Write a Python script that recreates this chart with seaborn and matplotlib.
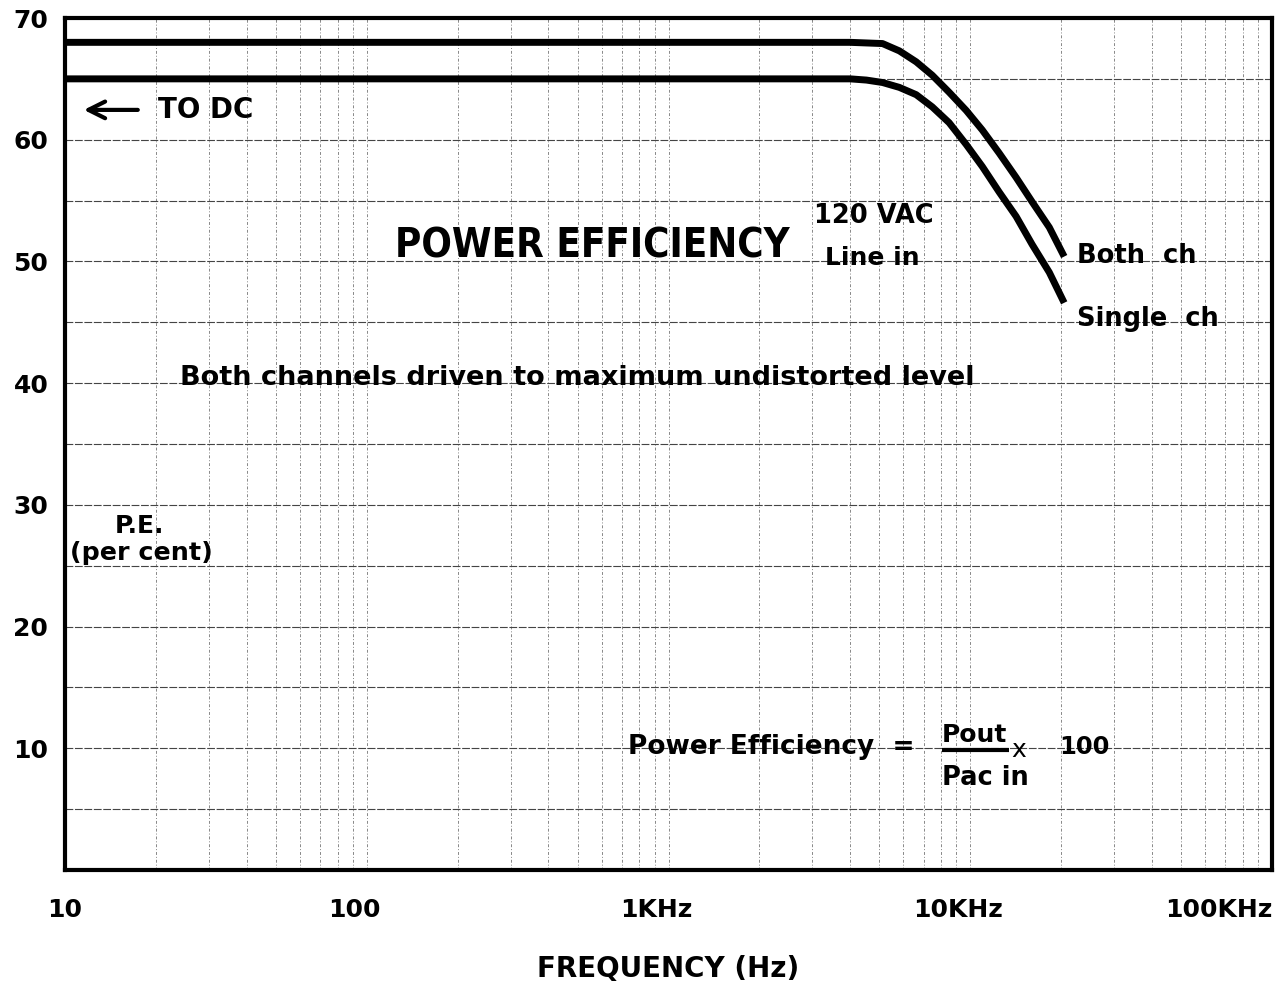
import os
import numpy as np
import pandas as pd
import matplotlib
matplotlib.use("Agg")
import matplotlib.pyplot as plt
import matplotlib.transforms as mtransforms
from matplotlib import font_manager as fm
from matplotlib.font_manager import FontProperties
import seaborn as sns

# ---- data ----
freq_hz = [10, 4000, 4530, 5120, 5820, 6620, 7480, 8510, 9700, 10960, 12470, 14190, 16030, 18280, 20480]
both_ch = [68, 68, 67.95, 67.9, 67.3, 66.4, 65.3, 63.9, 62.4, 60.8, 58.9, 56.9, 54.9, 52.8, 50.4]
single_ch = [65, 65, 64.9, 64.7, 64.3, 63.7, 62.7, 61.4, 59.6, 57.8, 55.7, 53.7, 51.4, 49.1, 46.6]
series_names = ["Both ch", "Single ch"]
x_tick_values = [10, 100, 1000, 10000, 100000]
x_tick_labels = ["10", "100", "1KHz", "10KHz", "100KHz"]
y_tick_values = [10, 20, 30, 40, 50, 60, 70]

df = pd.DataFrame({
    "freq": freq_hz * 2,
    "pe": both_ch + single_ch,
    "series": [series_names[0]] * len(freq_hz) + [series_names[1]] * len(freq_hz),
})


def pick_condensed():
    prefs = ["NotoSans-ExtraCondensedBold", "NotoSans-CondensedBold",
             "DejaVuSansCondensed-Bold", "LiberationSansNarrow-Bold",
             "RobotoCondensed-Bold", "OpenSans-CondensedBold"]
    files = [f.fname for f in fm.fontManager.ttflist]
    for p in prefs:
        for f in files:
            if os.path.basename(f).startswith(p):
                return FontProperties(fname=f)
    for f in files:
        b = os.path.basename(f).lower()
        if ("condensed" in b or "narrow" in b) and "bold" in b and "italic" not in b:
            return FontProperties(fname=f)
    return FontProperties(family="DejaVu Sans", weight="bold")


sns.set_theme(style="white")
plt.rcParams["font.family"] = ["DejaVu Sans"]
plt.rcParams["text.color"] = "black"
plt.rcParams["xtick.color"] = "black"
plt.rcParams["ytick.color"] = "black"
plt.rcParams["axes.labelcolor"] = "black"

fig = plt.figure(figsize=(12.84, 9.86), dpi=100)
ax = fig.add_axes([65 / 1284, 116 / 986, 1207 / 1284, 852 / 986])

sns.lineplot(data=df, x="freq", y="pe", hue="series", estimator=None, sort=False,
             palette=["black", "black"], linewidth=5, legend=False, ax=ax)
for ln in ax.lines:
    ln.set_solid_capstyle("butt")
    ln.set_solid_joinstyle("round")

ax.set_xscale("log")
ax.set_xlim(10, 100000)
ax.set_ylim(0, 70)
ax.set_xticks(x_tick_values)
ax.set_xticklabels(x_tick_labels)
ax.set_xticks([m * d for d in [10, 100, 1000, 10000] for m in range(2, 10)], minor=True)
ax.set_xticklabels([], minor=True)
ax.set_yticks(y_tick_values)
ax.set_yticks([5, 15, 25, 35, 45, 55, 65], minor=True)

ax.grid(True, which="both", axis="y", color="#444444", linewidth=0.8, linestyle=(0, (7, 1.5)))
ax.grid(True, which="both", axis="x", color="#888888", linewidth=0.7, linestyle=(0, (3, 2, 1, 2)))
ax.tick_params(which="both", length=0)
ax.tick_params(axis="y", pad=12, labelsize=18)
ax.tick_params(axis="x", pad=20, labelsize=18)
for lbl in ax.get_yticklabels():
    lbl.set_fontweight("bold")
xlabels = ax.get_xticklabels()
for i, lbl in enumerate(xlabels):
    lbl.set_fontweight("bold")
    if i in (1, 2, 3):
        lbl.set_transform(lbl.get_transform() + mtransforms.ScaledTranslation(-12 / 100, 0, fig.dpi_scale_trans))
xlabels[-1].set_horizontalalignment("right")

for s in ax.spines.values():
    s.set_visible(True)
    s.set_color("black")
    s.set_linewidth(3)

ax.set_xlabel("FREQUENCY (Hz)", fontsize=20, fontweight="bold", labelpad=24)
ax.set_ylabel("")

bold = dict(fontweight="bold", color="black")
# arrow + TO DC
ax.annotate("", xy=(11.3, 62.45), xytext=(17.8, 62.45), xycoords="data",
            arrowprops=dict(arrowstyle="->", lw=3, color="black", mutation_scale=30))
ax.text(20.3, 62.45, "TO DC", fontsize=20, va="center", ha="left", **bold)

# title in a condensed face, fitted to the reference width
cond = pick_condensed()
title = ax.text(124, 51.2, "POWER EFFICIENCY", fontproperties=cond, fontsize=40,
                va="center", ha="left", color="black")
fig.canvas.draw()
w = title.get_window_extent(fig.canvas.get_renderer()).width
title.set_fontsize(min(40 * 395.0 / w, 48))

ax.text(4800, 53.7, "120 VAC", fontsize=18.5, va="center", ha="center", **bold)
ax.text(4750, 50.3, "Line in", fontsize=18, va="center", ha="center", **bold)
ax.text(22600, 50.45, "Both  ch", fontsize=18.5, va="center", ha="left", **bold)
ax.text(22500, 45.3, "Single  ch", fontsize=18.5, va="center", ha="left", **bold)
ax.text(500, 40.4, "Both channels driven to maximum undistorted level",
        fontsize=19.5, va="center", ha="center", **bold)
ax.text(17.7, 28.3, "P.E.", fontsize=18, va="center", ha="center", **bold)
ax.text(17.9, 26.05, "(per cent)", fontsize=18.3, va="center", ha="center", **bold)
ax.text(6530, 10.1, "Power Efficiency  =", fontsize=19, va="center", ha="right", **bold)
ax.text(8050, 11.1, "Pout", fontsize=18, va="center", ha="left", **bold)
ax.text(8050, 7.56, "Pac in", fontsize=18.5, va="center", ha="left", **bold)
ax.plot([8050, 13400], [9.86, 9.86], color="black", lw=3, solid_capstyle="butt")
ax.text(14500, 9.9, "x", fontsize=18, va="center", ha="center", color="black")
ax.text(19700, 10.1, "100", fontsize=17.5, va="center", ha="left", **bold)

fig.savefig("out.png", dpi=100, facecolor="white")
